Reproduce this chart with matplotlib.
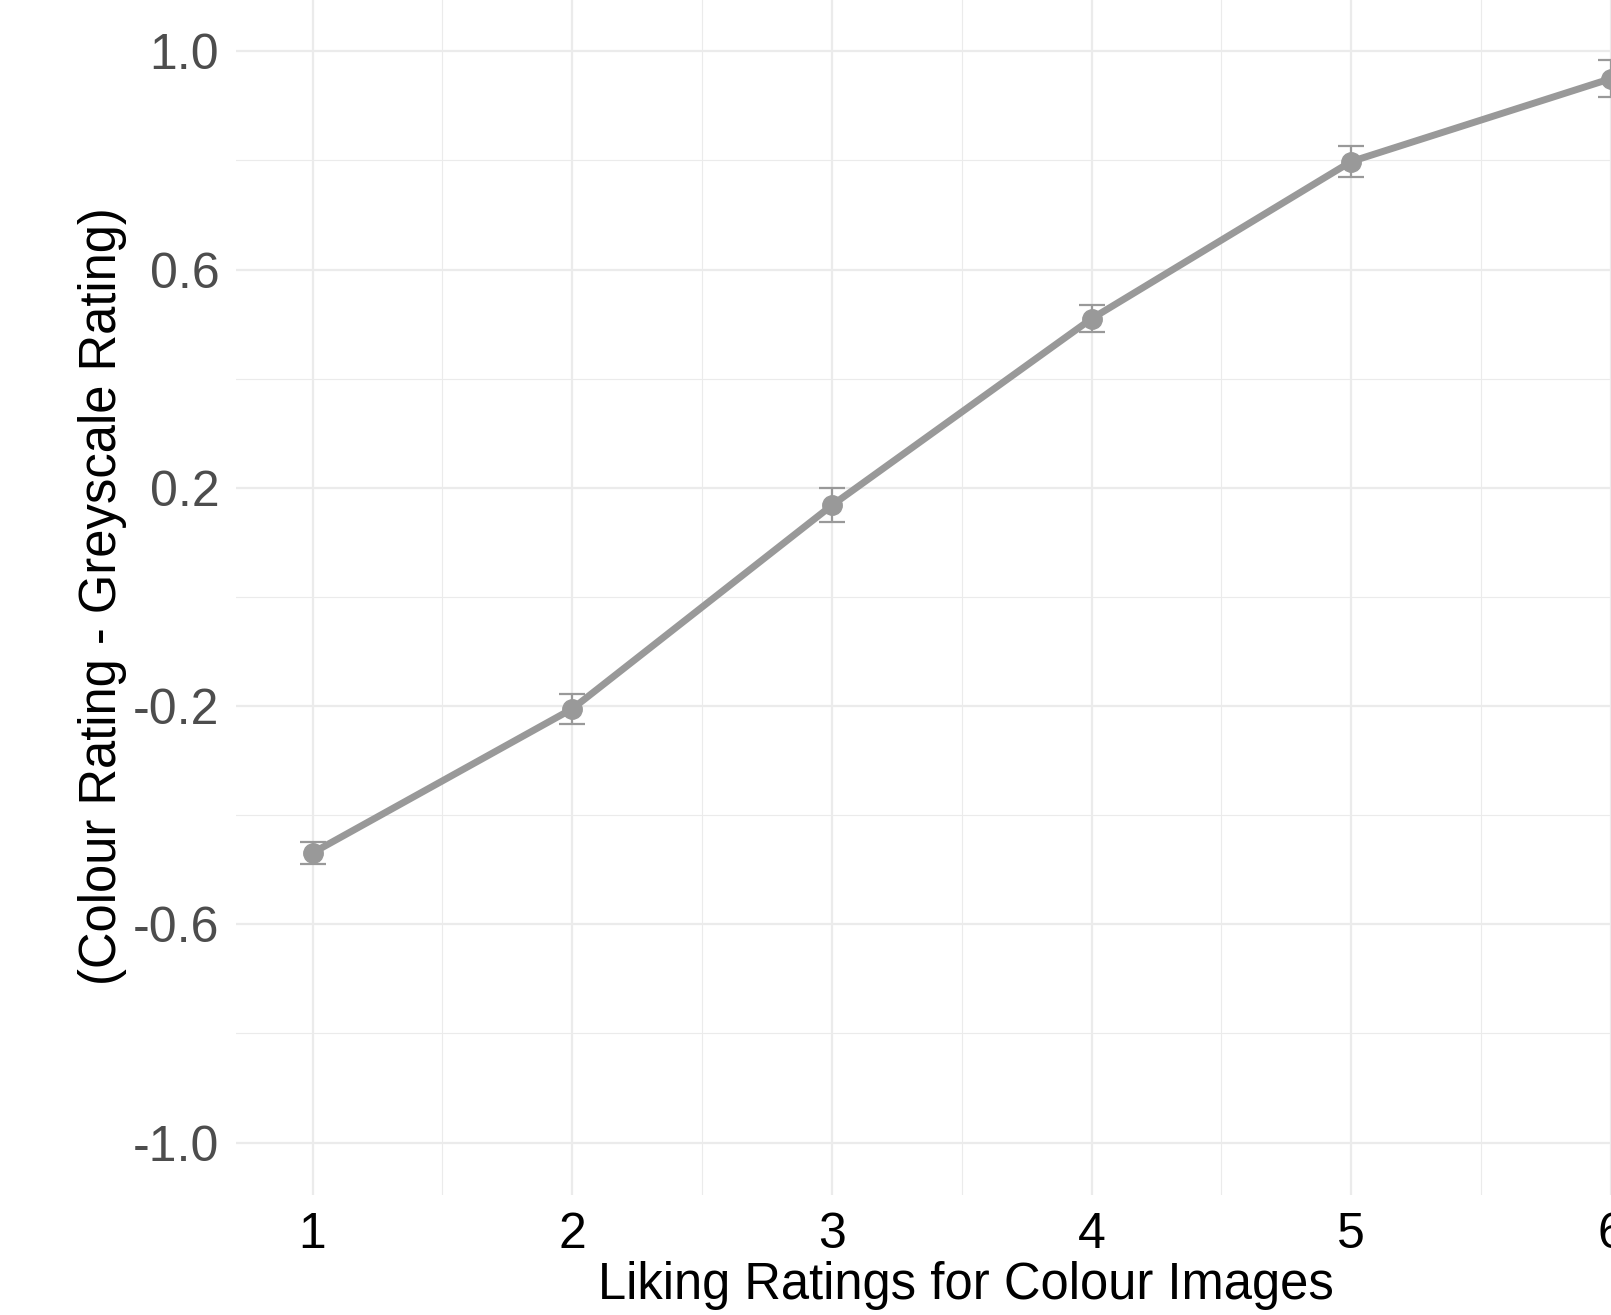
import matplotlib.pyplot as plt
from matplotlib.ticker import MultipleLocator

plt.rcParams['font.family'] = ['Liberation Sans', 'DejaVu Sans']

# liking rating for colour image vs mean difference (colour - greyscale)
liking = [1, 2, 3, 4, 5, 6]
diff_mean = [-0.469, -0.205, 0.168, 0.510, 0.798, 0.950]
diff_se = [0.020, 0.028, 0.031, 0.025, 0.029, 0.034]

y_ticks = [-1.0, -0.6, -0.2, 0.2, 0.6, 1.0]
y_ticklabels = ['-1.0', '-0.6', '-0.2', '0.2', '0.6', '1.0']

W, H = 1611, 1315
fig = plt.figure(figsize=(W / 100, H / 100), dpi=100)
# panel is cropped at the top and right, like the original image
ax = fig.add_axes([236 / W, 1 - 1195 / H, 1 - 236 / W, 1195 / H])

ax.errorbar(liking, diff_mean, yerr=diff_se, color='#999999', lw=5,
            marker='o', ms=14, ecolor='#999999', elinewidth=1.6,
            capsize=9.5, capthick=1.6, zorder=3)

ax.set_xlim(0.705, 5.958)
ax.set_ylim(-1.096, 1.094)
ax.set_xticks(liking)
ax.set_yticks(y_ticks)
ax.set_yticklabels(y_ticklabels)
ax.xaxis.set_minor_locator(MultipleLocator(0.5))
ax.yaxis.set_minor_locator(MultipleLocator(0.2))

ax.grid(which='major', color='#EBEBEB', lw=1.6)
ax.grid(which='minor', color='#EBEBEB', lw=0.8)
ax.set_axisbelow(True)
for s in ax.spines.values():
    s.set_visible(False)
ax.tick_params(which='both', length=0)
ax.tick_params(axis='x', labelsize=36, labelcolor='black', pad=12)
ax.tick_params(axis='y', labelsize=36, labelcolor='#4D4D4D', pad=12)

fig.text(966 / W, 1 - 1286 / H, 'Liking Ratings for Colour Images',
         fontsize=36.5, ha='center', va='center')
fig.text(103 / W, 1 - 596 / H, '(Colour Rating - Greyscale Rating)',
         fontsize=36.5, ha='center', va='center', rotation=90)

fig.savefig('out.png', dpi=100)
